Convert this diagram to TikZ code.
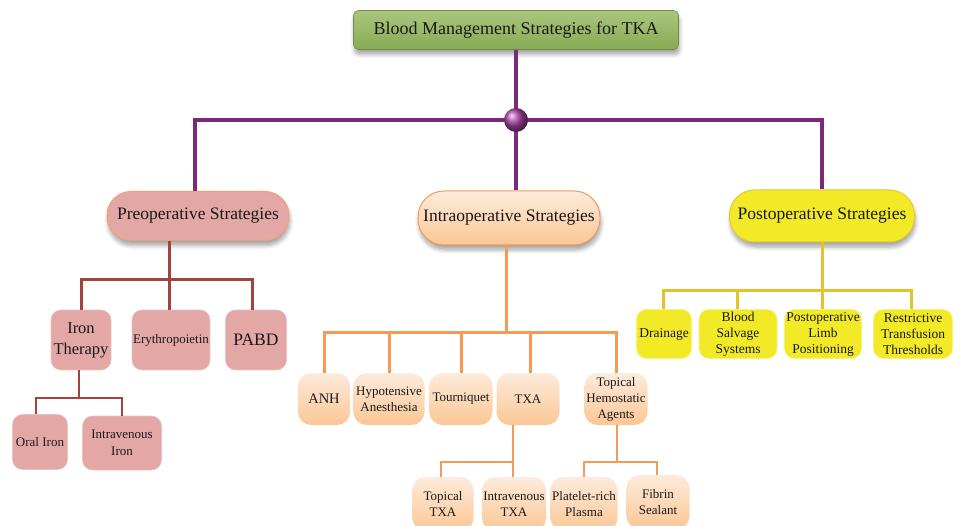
\documentclass[tikz,border=0pt]{standalone}
\usepackage{fontspec}
\setmainfont{Liberation Serif}
\usetikzlibrary{shadows.blur}
\definecolor{purpleline}{HTML}{7A2A7C}
\definecolor{preline}{HTML}{A2433E}
\definecolor{prefill}{HTML}{E3A8A6}
\definecolor{preborder}{HTML}{F0A070}
\definecolor{intraline}{HTML}{F49A55}
\definecolor{intratop}{HTML}{FDEBDB}
\definecolor{intrabot}{HTML}{FBC795}
\definecolor{postline}{HTML}{E2C42A}
\definecolor{postfill}{HTML}{F2EA26}
\definecolor{postborder}{HTML}{E6C82D}
\definecolor{greentop}{HTML}{AAC67C}
\definecolor{greenbot}{HTML}{88AA56}
\definecolor{greenborder}{HTML}{6F8E44}
\definecolor{dotcol}{HTML}{A843A6}
\tikzset{
  fs/.style 2 args={font=\fontsize{#1}{#2}\selectfont},
  box/.style={inner sep=0pt, align=center, text=black!90},
  shad/.style={blur shadow={shadow xshift=1pt, shadow yshift=-5pt, shadow blur steps=6, shadow blur radius=4pt, shadow opacity=35}},
  titlebox/.style={box, shad, rounded corners=5pt, top color=greentop, bottom color=greenbot, draw=greenborder, line width=0.6pt, fs={18}{21}},
  prehead/.style={box, shad, rounded corners=24pt, fill=prefill, draw=preborder, line width=1pt, fs={17.5}{21}},
  intrahead/.style={box, shad, rounded corners=26pt, top color=intratop, bottom color=intrabot, draw=intraline, line width=1pt, fs={17.5}{21}},
  posthead/.style={box, shad, rounded corners=25pt, fill=postfill, draw=postborder, line width=1pt, fs={17.5}{21}},
  prekid/.style={box, rounded corners=10pt, fill=prefill, draw=prefill!70!white, line width=0.6pt},
  intrakid/.style={box, rounded corners=13pt, top color=intratop, bottom color=intrabot, fs={13}{16}},
  postkid/.style={box, rounded corners=10pt, fill=postfill, draw=postfill!60!white, line width=0.6pt, fs={13.5}{16}},
  pline/.style={draw=purpleline, line width=4pt},
  prl/.style={draw=preline, line width=3pt},
  prl2/.style={draw=preline, line width=2pt},
  inl/.style={draw=intraline, line width=3pt},
  inl2/.style={draw=intraline, line width=2.4pt},
  pol/.style={draw=postline, line width=3pt},
}
\begin{document}
\begin{tikzpicture}[x=1pt, y=-1pt]
\useasboundingbox (0,0) rectangle (961,526);
\clip (0,0) rectangle (961,526);

\coordinate (jtop) at (516,120);
\coordinate (jpre) at (169,280);
\coordinate (jiron) at (79,398);
\coordinate (jintra) at (506,333);
\coordinate (jtxa) at (513,462);
\coordinate (jtha) at (617,462);
\coordinate (jpost) at (822,291);

\node[titlebox, minimum width=325pt, minimum height=39pt] (title) at (516,30) {Blood Management Strategies for TKA};

\node[prehead, minimum width=182pt, minimum height=49pt] (pre) at (198,216) {Preoperative Strategies};
\node[intrahead, minimum width=182pt, minimum height=54pt] (intra) at (509,218) {Intraoperative Strategies};
\node[posthead, minimum width=185pt, minimum height=52pt] (post) at (822,216) {Postoperative Strategies};

\node[prekid, fs={16.5}{21}, minimum width=60pt, minimum height=60pt] (iron) at (81,340) {Iron\\Therapy};
\node[prekid, fs={13}{16}, minimum width=78pt, minimum height=60pt] (ery) at (171,340) {Erythropoietin};
\node[prekid, fs={17.5}{21}, minimum width=61pt, minimum height=60pt] (pabd) at (256,340) {PABD};
\node[prekid, fs={13}{16}, minimum width=55pt, minimum height=55pt] (oral) at (40,442) {Oral Iron};
\node[prekid, fs={13}{17}, minimum width=79pt, minimum height=54pt] (ivi) at (122,443) {Intravenous\\Iron};

\node[intrakid, fs={14.5}{16}, minimum width=52pt, minimum height=52pt] (anh) at (324,399) {ANH};
\node[intrakid, minimum width=71pt, minimum height=52pt] (hypo) at (389,399) {Hypotensive\\Anesthesia};
\node[intrakid, minimum width=63pt, minimum height=52pt] (tour) at (461,399) {Tourniquet};
\node[intrakid, minimum width=63pt, minimum height=52pt] (txa) at (528,399) {TXA};
\node[intrakid, minimum width=63pt, minimum height=52pt] (tha) at (616,399) {Topical\\Hemostatic\\Agents};
\node[intrakid, minimum width=61pt, minimum height=54pt] (ttxa) at (443,504) {Topical\\TXA};
\node[intrakid, minimum width=64pt, minimum height=54pt] (ivtxa) at (514,504) {Intravenous\\TXA};
\node[intrakid, minimum width=67pt, minimum height=54pt] (prp) at (584,504) {Platelet-rich\\Plasma};
\node[intrakid, minimum width=63pt, minimum height=54pt] (fib) at (658,502) {Fibrin\\Sealant};

\node[postkid, minimum width=55pt, minimum height=49pt] (drain) at (664,334) {Drainage};
\node[postkid, minimum width=78pt, minimum height=49pt] (salv) at (738,334) {Blood\\Salvage\\Systems};
\node[postkid, minimum width=77pt, minimum height=49pt] (limb) at (823,334) {Postoperative\\Limb\\Positioning};
\node[postkid, minimum width=79pt, minimum height=49pt] (restr) at (913,334) {Restrictive\\Transfusion\\Thresholds};

% purple
\path[pline] (title.south) -- (jtop);
\path[pline] (pre.north -| 195,0) |- (jtop) -| (post.north);
\path[pline] (jtop) -- (jtop |- intra.north);
\node[circle, minimum size=24pt, inner sep=0pt, shading=ball, ball color=dotcol] (dot) at (jtop) {};

% preoperative
\path[prl] (jpre |- pre.south) -- (jpre);
\path[prl] (iron.north) |- (jpre) -| (pabd.north -| 252,0);
\path[prl] (jpre) -- (jpre |- ery.north);
\path[prl2] (jiron |- iron.south) -- (jiron);
\path[prl2] (oral.north -| 36,0) |- (jiron) -| (ivi.north);

% intraoperative
\path[inl] (jintra |- intra.south) -- (jintra);
\path[inl] (anh.north) |- (jintra) -| (tha.north);
\path[inl] (hypo.north) -- (hypo.north |- jintra);
\path[inl] (tour.north) -- (tour.north |- jintra);
\path[inl] (txa.north -| 530,0) -- (jintra -| 530,0);
\path[inl2] (jtxa |- txa.south) -- (jtxa);
\path[inl2] (ttxa.north -| 441,0) |- (jtxa) -- (jtxa |- ivtxa.north);
\path[inl2] (jtha |- tha.south) -- (jtha);
\path[inl2] (prp.north) |- (jtha) -| (fib.north -| 657,0);

% postoperative
\path[pol] (post.south) -- (jpost);
\path[pol] (drain.north -| 663,0) |- (jpost) -| (restr.north -| 911,0);
\path[pol] (salv.north -| 737,0) -- (jpost -| 737,0);
\path[pol] (jpost) -- (jpost |- limb.north);
\end{tikzpicture}
\end{document}
